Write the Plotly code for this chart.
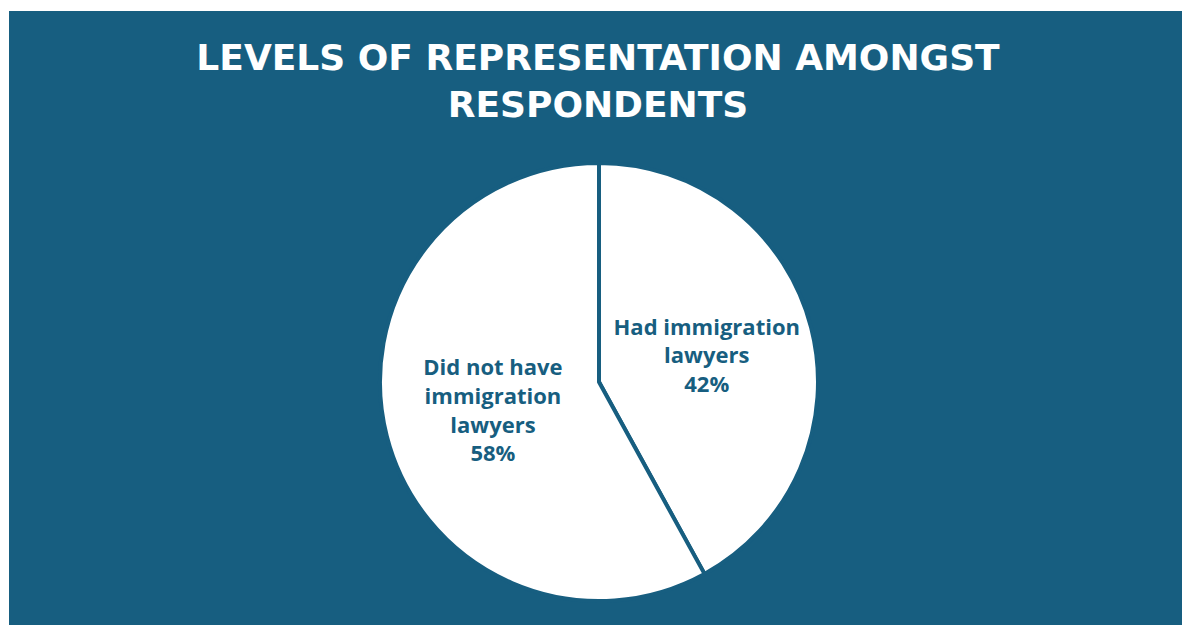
import plotly.graph_objects as go

categories = ["Had immigration lawyers", "Did not have immigration lawyers"]
label_text = ["Had immigration<br>lawyers", "Did not have<br>immigration<br>lawyers"]
values = [42, 58]

BLUE = "#175E80"
W, H = 1182, 625

fig = go.Figure(go.Pie(
    labels=categories,
    values=values,
    customdata=label_text,
    sort=False,
    direction="clockwise",
    rotation=0,
    marker=dict(colors=["#FFFFFF", "#FFFFFF"], line=dict(color=BLUE, width=4)),
    texttemplate="%{customdata}<br>%{percent:.0%}",
    textposition="inside",
    insidetextorientation="horizontal",
    insidetextfont=dict(family="Open Sans", size=22, color=BLUE, weight="bold"),
    hoverinfo="label+percent",
    showlegend=False,
    domain=dict(x=[(599 - 219) / W, (599 + 219) / W], y=[1 - 601 / H, 1 - 163 / H]),
))

fig.update_layout(
    width=W, height=H,
    margin=dict(l=0, r=0, t=0, b=0),
    paper_bgcolor=BLUE,
    title=dict(
        text="LEVELS OF REPRESENTATION AMONGST<br>RESPONDENTS",
        x=598 / W, xanchor="center",
        y=1 - 70 / H, yanchor="top",
        font=dict(family="DejaVu Sans", size=36, color="white", weight="bold"),
    ),
    shapes=[
        dict(type="rect", xref="paper", yref="paper", x0=0, x1=1, y0=1 - 11 / H, y1=1,
             fillcolor="white", line=dict(width=0), layer="above"),
        dict(type="rect", xref="paper", yref="paper", x0=0, x1=9 / W, y0=0, y1=1,
             fillcolor="white", line=dict(width=0), layer="above"),
    ],
)

fig.write_html("out.html")
